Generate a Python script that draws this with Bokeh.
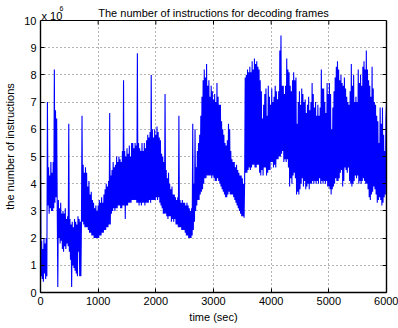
from bokeh.plotting import figure
from bokeh.models import Label, LinearAxis, Range1d, FixedTicker, Span, BoxAnnotation
from bokeh.embed import file_html
from bokeh.resources import INLINE

# ---- data: instructions per frame (millions), one reading every 10 s ----
time_step_sec = 10
instructions_millions = [
    6.0, 0.6, 1.9, 0.5, 1.6, 0.4, 2.0, 0.7, 1.8, 0.5,
    2.0, 0.6, 7.0, 3.2, 4.6, 2.9, 4.3, 3.1, 4.8, 3.0,
    4.4, 3.0, 4.8, 3.1, 8.2, 3.3, 6.7, 3.5, 6.4, 3.2,
    0.2, 3.4, 2.0, 3.1, 1.8, 3.3, 1.9, 2.9, 1.6, 3.0,
    1.5, 2.9, 1.7, 3.1, 1.6, 2.7, 1.8, 2.8, 1.7, 6.2,
    1.5, 2.7, 1.2, 2.5, 0.2, 2.6, 1.0, 2.4, 0.9, 2.7,
    0.8, 2.6, 0.7, 2.5, 0.6, 2.8, 1.5, 2.7, 0.6, 2.6,
    0.6, 2.5, 6.5, 2.6, 4.7, 2.5, 4.4, 2.4, 4.6, 2.4,
    4.4, 2.4, 3.9, 2.3, 4.1, 2.2, 3.6, 2.2, 3.7, 2.1,
    3.4, 2.1, 3.3, 2.0, 3.1, 2.0, 3.2, 2.0, 3.0, 2.0,
    3.2, 2.0, 3.4, 2.1, 3.3, 2.1, 3.5, 2.2, 3.3, 2.2,
    3.6, 2.3, 3.8, 2.3, 4.0, 2.4, 3.9, 2.4, 4.1, 2.5,
    6.6, 2.5, 4.3, 2.9, 4.5, 3.0, 4.8, 3.1, 4.6, 3.0,
    4.7, 3.1, 5.0, 3.1, 4.8, 3.2, 5.0, 3.2, 4.9, 3.1,
    4.8, 3.1, 5.2, 3.2, 7.8, 3.2, 5.2, 2.7, 5.0, 3.2,
    5.3, 3.2, 5.1, 3.3, 5.4, 3.3, 5.0, 3.3, 5.5, 3.4,
    5.5, 3.4, 5.3, 3.4, 5.5, 3.4, 5.4, 3.3, 8.8, 3.3,
    5.5, 3.2, 5.3, 3.3, 5.2, 3.2, 5.5, 3.3, 5.2, 3.3,
    5.5, 3.2, 5.3, 3.3, 5.6, 3.3, 5.8, 3.3, 5.7, 3.4,
    5.9, 3.3, 8.0, 3.4, 6.0, 3.4, 5.7, 3.4, 6.0, 3.4,
    5.8, 3.5, 6.1, 3.4, 5.9, 3.5, 5.7, 3.3, 5.6, 3.2,
    5.1, 3.1, 5.0, 2.9, 4.8, 2.9, 7.3, 2.9, 4.5, 2.8,
    4.2, 2.7, 4.4, 2.8, 4.0, 2.8, 3.8, 2.6, 3.9, 2.7,
    3.6, 2.6, 3.6, 2.7, 3.5, 2.5, 3.4, 2.5, 3.5, 2.4,
    6.5, 2.4, 3.4, 2.4, 3.3, 2.3, 3.4, 2.3, 3.3, 2.3,
    3.3, 2.2, 3.2, 2.1, 3.3, 2.1, 3.2, 2.0, 3.1, 2.0,
    3.0, 2.0, 3.1, 2.1, 6.2, 2.3, 4.0, 2.6, 6.0, 3.0,
    4.6, 3.2, 5.2, 3.4, 5.5, 3.4, 5.8, 3.6, 6.5, 3.7,
    7.2, 3.8, 7.8, 4.0, 8.2, 4.2, 7.9, 4.2, 8.4, 4.3,
    7.6, 4.3, 7.8, 4.3, 7.2, 4.3, 7.6, 4.2, 7.4, 4.3,
    7.1, 4.2, 7.3, 4.1, 7.0, 4.1, 7.7, 4.2, 7.2, 4.1,
    6.9, 4.0, 6.9, 3.9, 6.3, 3.8, 6.0, 3.7, 5.8, 3.6,
    5.5, 3.5, 5.4, 3.5, 5.6, 3.6, 6.2, 3.7, 6.0, 3.6,
    5.2, 3.6, 4.9, 3.6, 4.8, 3.5, 4.8, 3.4, 4.6, 3.3,
    4.7, 3.2, 4.5, 3.1, 4.4, 3.0, 4.3, 2.9, 4.3, 2.8,
    4.2, 2.8, 4.0, 2.75, 4.1, 7.9, 4.4, 8.0, 4.4, 8.2,
    4.5, 8.1, 4.6, 8.3, 4.5, 8.1, 4.6, 8.5, 4.7, 8.2,
    4.7, 8.6, 4.6, 8.4, 4.6, 8.5, 4.7, 8.3, 4.7, 8.2,
    4.4, 7.8, 4.3, 7.4, 4.5, 6.4, 4.3, 6.9, 4.6, 7.3,
    4.6, 7.5, 4.3, 6.5, 4.4, 7.6, 4.5, 7.2, 4.5, 6.9,
    4.8, 7.5, 4.8, 7.0, 4.6, 7.2, 4.7, 7.6, 4.6, 7.4,
    4.9, 7.1, 4.9, 7.4, 5.0, 8.9, 5.0, 9.45, 5.1, 7.6,
    5.2, 7.6, 4.8, 7.3, 4.9, 7.6, 4.8, 8.6, 4.9, 8.2,
    4.6, 8.1, 3.9, 7.6, 4.2, 7.4, 4.0, 7.8, 4.3, 8.1,
    4.4, 7.8, 4.2, 7.9, 3.6, 6.2, 3.7, 7.0, 3.6, 7.4,
    3.8, 6.9, 4.0, 7.5, 4.2, 7.3, 3.9, 7.0, 4.1, 7.1,
    3.8, 6.6, 3.9, 6.9, 4.0, 7.2, 3.8, 6.7, 4.0, 7.0,
    4.0, 7.7, 4.1, 7.3, 4.0, 6.8, 4.1, 7.0, 4.0, 6.5,
    4.1, 6.9, 4.0, 6.5, 4.2, 6.8, 4.0, 8.2, 4.1, 7.5,
    4.0, 7.5, 4.1, 7.0, 4.0, 6.6, 4.1, 7.7, 3.9, 7.3,
    3.9, 7.7, 3.8, 7.3, 3.6, 6.0, 3.8, 6.8, 3.9, 7.4,
    4.0, 7.9, 4.2, 8.3, 4.1, 8.5, 4.1, 8.2, 4.2, 7.8,
    4.4, 8.0, 4.5, 7.7, 3.9, 7.6, 4.1, 7.9, 4.6, 7.5,
    4.5, 7.2, 4.4, 7.0, 4.6, 6.9, 4.1, 7.4, 4.0, 8.4,
    3.9, 7.6, 4.0, 8.0, 4.1, 7.0, 4.3, 7.2, 4.2, 7.0,
    4.3, 8.2, 4.0, 7.7, 4.1, 8.0, 4.0, 7.6, 4.1, 8.3,
    4.2, 8.5, 4.1, 8.2, 4.0, 8.9, 4.0, 8.2, 3.8, 7.8,
    3.5, 7.6, 3.4, 7.2, 3.6, 8.3, 3.7, 7.5, 3.9, 7.0,
    3.8, 6.9, 3.6, 6.5, 3.3, 6.3, 3.4, 5.5, 3.5, 6.8,
    3.4, 6.2, 3.2, 6.8, 3.3, 5.8, 3.5, 5.2, 3.6, 6.4,
    7.0,
]
x_ticks = [0, 1000, 2000, 3000, 4000, 5000, 6000]
y_ticks = [0, 1, 2, 3, 4, 5, 6, 7, 8, 9, 10]
x_limits = (0, 6000)
y_limits = (0, 10)
title_text = "The number of instructions for decoding frames"
x_label = "time (sec)"
y_label = "the number of instructions"
scale_text = "x 10"
scale_exp = "6"

times = [i * time_step_sec for i in range(len(instructions_millions))]

# ---- layout constants (pixels) ----
FONT = "Liberation Sans"
W, H = 398, 328
BOX_LEFT, BOX_RIGHT, BOX_TOP, BOX_BOTTOM = 40, 386, 20, 292
TICK_LEN = 4
px_per_unit = (BOX_BOTTOM - BOX_TOP) / (y_limits[1] - y_limits[0])
y_top_extent = y_limits[1] + BOX_TOP / px_per_unit  # frame reaches the top of the canvas

p = figure(width=W, height=H, output_backend="svg", toolbar_location=None,
           x_range=Range1d(*x_limits), y_range=Range1d(y_limits[0], y_top_extent),
           min_border_left=BOX_LEFT, min_border_right=W - BOX_RIGHT,
           min_border_top=0, min_border_bottom=H - BOX_BOTTOM)
p.background_fill_color = "white"
p.border_fill_color = "white"
p.outline_line_color = None

p.line(times, instructions_millions, line_color="#0000ff", line_width=1.1)

def style_axis(ax, ticks, show_labels=True):
    ax.ticker = FixedTicker(ticks=ticks)
    ax.bounds = (ticks[0], ticks[-1])
    ax.major_tick_in = TICK_LEN
    ax.major_tick_out = 0
    ax.minor_tick_in = 0
    ax.minor_tick_out = 0
    ax.axis_line_color = "black"
    ax.axis_line_width = 1.4
    ax.major_tick_line_color = "black"
    ax.major_label_text_font = FONT
    ax.major_label_standoff = 4 if show_labels else 0
    ax.major_label_text_font_size = "11px" if show_labels else "1px"
    ax.major_label_text_color = "black" if show_labels else None
    ax.axis_label_text_font = FONT
    ax.axis_label_text_font_size = "11px"
    ax.axis_label_text_font_style = "normal"
    ax.axis_label_text_color = "black"

style_axis(p.xaxis[0], x_ticks)
style_axis(p.yaxis[0], y_ticks)
p.xaxis.axis_label = x_label
p.xaxis.axis_label_standoff = 3
p.yaxis.axis_label = y_label
p.yaxis.axis_label_standoff = 5

ax_r = LinearAxis()
style_axis(ax_r, y_ticks, show_labels=False)
p.add_layout(ax_r, "right")

for g, ticks in ((p.xgrid[0], x_ticks), (p.ygrid[0], y_ticks)):
    g.ticker = FixedTicker(ticks=ticks)
    g.grid_line_color = "black"
    g.grid_line_alpha = 0.6
    g.grid_line_dash = "1 3"
    g.grid_line_width = 1

# blank strip above the box (holds the title), the box's top edge and its inward ticks
p.add_layout(BoxAnnotation(bottom=y_limits[1], fill_color="white", fill_alpha=1.0,
                           line_color=None, level="annotation"))
p.add_layout(Span(location=y_limits[1], dimension="width", line_color="black",
                  line_width=1.2, level="overlay"))
p.segment(x0=x_ticks, y0=[y_limits[1]] * len(x_ticks),
          x1=x_ticks, y1=[y_limits[1] - TICK_LEN / px_per_unit] * len(x_ticks),
          line_color="black", line_width=1)

p.add_layout(Label(x=sum(x_limits) / 2, y=y_limits[1], y_offset=8, text=title_text,
                   text_align="center", text_baseline="alphabetic", text_font=FONT,
                   text_font_size="11px", text_color="black", level="overlay"))
p.add_layout(Label(x=x_limits[0], y=y_limits[1], y_offset=5, x_offset=1, text=scale_text,
                   text_align="left", text_baseline="alphabetic", text_font=FONT,
                   text_font_size="11px", text_color="black", level="overlay"))
p.add_layout(Label(x=x_limits[0], y=y_limits[1], y_offset=12, x_offset=19, text=scale_exp,
                   text_align="left", text_baseline="alphabetic", text_font=FONT,
                   text_font_size="7px", text_color="black", level="overlay"))

open("out.html", "w").write(file_html(p, INLINE))
